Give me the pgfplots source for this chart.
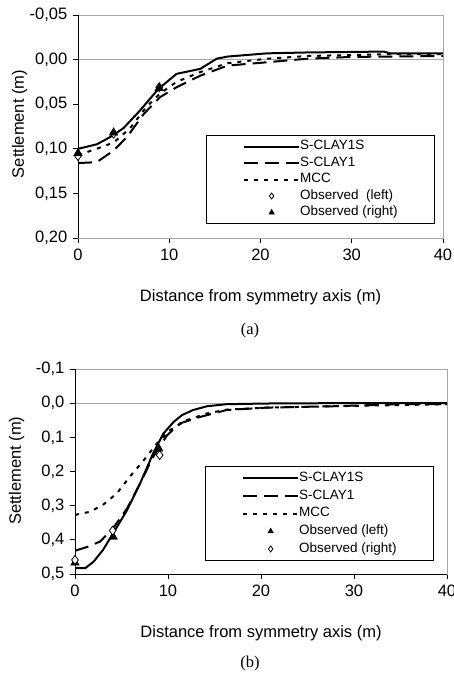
\documentclass[border=0pt]{standalone}
\usepackage{pgfplots}
\pgfplotsset{compat=1.18}
\usepackage{fontspec}
\setmainfont{Liberation Sans}
\newfontfamily\serifcap{Liberation Serif}

\pgfplotsset{
  settle/.style={
    scale only axis,
    xmin=0, xmax=40,
    xtick={0,10,20,30,40},
    y dir=reverse,
    axis line style={draw=gray!70, line width=0.8pt},
    tick style={black, line width=0.8pt},
    tick align=outside,
    major tick length=5pt,
    xtick pos=bottom, ytick pos=left,
    /pgf/number format/assume math mode=true,
    /pgf/number format/use comma,
    /pgf/number format/fixed,
    /pgf/number format/fixed zerofill,
    xticklabel style={/pgf/number format/precision=0, /pgf/number format/fixed zerofill=false},
    ylabel={Settlement (m)},
    xlabel={Distance from symmetry axis (m)},
    legend cell align=left,
    legend style={draw=black, line width=0.6pt, inner xsep=37pt, inner ysep=3pt,
      font=\fontsize{13.5}{15}\selectfont,
      nodes={inner sep=0pt, text height=11.5pt, text depth=5pt},
      /tikz/every even column/.append style={column sep=0pt}},
  },
  lineimg/.style={legend image code/.code={\draw[##1] (0pt,0pt) -- (55pt,0pt);}},
  markimg/.style={legend image code/.code={%
      \node[anchor=center, draw=none, fill=none, inner sep=0pt, minimum width=55pt,
        minimum height=2pt, text height=0pt, text depth=0pt] at (27.5pt,0pt) {};
      \draw[##1, mark size=3pt] plot coordinates {(27.5pt,0pt)};}},
  s1s/.style={black, line width=2pt, lineimg},
  s1/.style={black, line width=2pt, dash pattern=on 14pt off 7pt, lineimg},
  mcc/.style={black, line width=2pt, dash pattern=on 4pt off 6pt, lineimg},
  dia/.style={only marks, mark=diamond*, mark size=4.5pt, mark options={fill=white, draw=black, line width=0.8pt}, markimg},
  tri/.style={only marks, mark=triangle*, mark size=5pt, mark options={fill=black, draw=black}, markimg},
}

\begin{document}
\fontsize{16.5}{19}\selectfont
\begin{tikzpicture}
\useasboundingbox (0pt,0pt) rectangle (454pt,675pt);

% (a)
\begin{axis}[settle,
  at={(78pt,437pt)}, anchor=south west,
  width=365pt, height=223pt,
  ymin=-0.05, ymax=0.2,
  ytick={-0.05,0,0.05,0.1,0.15,0.2},
  yticklabel style={/pgf/number format/precision=2},
  ylabel style={at={(axis description cs:-0.16,0.511)}, anchor=center},
  xlabel style={at={(axis description cs:0.5,-0.265)}, anchor=center},
  legend style={at={(0.978,0.462)}, anchor=north east},
]
\addplot[gray!70, line width=0.8pt, forget plot] coordinates {(0,0) (40,0)};
\addplot[s1s] coordinates {
 (0,0.100) (2.05,0.095) (3.5,0.087) (4.97,0.077) (6.8,0.057) (8.8,0.033)
 (10.8,0.016) (13.4,0.0104) (15.2,-0.001) (16.4,-0.0034) (20.7,-0.007)
 (25.1,-0.008) (33.5,-0.009) (34.2,-0.007) (40,-0.007)};
\addplot[s1] coordinates {
 (0,0.116) (2.05,0.115) (3.9,0.102) (5.35,0.087) (7.2,0.061) (9,0.042)
 (10.8,0.031) (13.4,0.018) (16.4,0.0067) (20.7,0.003) (25.1,-0.001)
 (30,-0.003) (40,-0.004)};
\addplot[mcc] coordinates {
 (0,0.107) (2.05,0.100) (3.9,0.093) (5.7,0.077) (7.5,0.053) (9,0.038)
 (10.8,0.025) (13.4,0.014) (16.4,0.004) (20.7,-0.001) (25.1,-0.004)
 (33.5,-0.006) (40,-0.006)};
\addplot[dia] coordinates {(0,0.108) (3.9,0.083) (8.9,0.031)};
\addplot[tri] coordinates {(0,0.105) (3.9,0.082) (8.9,0.032)};
\draw[black, line width=0.8pt] (rel axis cs:0,1) -- (rel axis cs:0,0) -- (rel axis cs:1,0);
\legend{S-CLAY1S, S-CLAY1, MCC, Observed\ \ (left), Observed (right)}
\end{axis}
\node[font=\serifcap\fontsize{16.5}{19}\selectfont] at (250pt,344pt) {(a)};

% (b)
\begin{axis}[settle,
  at={(75pt,101pt)}, anchor=south west,
  width=372pt, height=205pt,
  ymin=-0.1, ymax=0.5,
  ytick={-0.1,0,0.1,0.2,0.3,0.4,0.5},
  yticklabel style={/pgf/number format/precision=1},
  ylabel style={at={(axis description cs:-0.157,0.504)}, anchor=center},
  xlabel style={at={(axis description cs:0.5,-0.288)}, anchor=center},
  legend style={at={(0.965,0.527)}, anchor=north east,
    nodes={text height=12.2pt, text depth=5.5pt}},
]
\addplot[gray!70, line width=0.8pt, forget plot] coordinates {(0,0) (40,0)};
\addplot[s1s] coordinates {
 (0,0.483) (1.1,0.483) (2,0.464) (3,0.430) (4.1,0.381) (5.6,0.313) (7,0.235)
 (8.4,0.147) (9.5,0.089) (10.6,0.055) (11.5,0.035) (12.7,0.020) (14.2,0.009)
 (16.3,0.003) (20.6,0.001) (27.8,0) (40,0)};
\addplot[s1] coordinates {
 (0,0.432) (1.4,0.420) (2.7,0.405) (4.1,0.366) (5.6,0.308) (7,0.235)
 (8.4,0.157) (9.9,0.094) (11.3,0.059) (13.5,0.040) (16.3,0.020) (20.6,0.013)
 (24.2,0.011) (27.8,0.009) (31.4,0.006) (35,0.003) (40,0.003)};
\addplot[mcc] coordinates {
 (0,0.327) (1.6,0.318) (3,0.298) (4.5,0.264) (5.9,0.215) (7.4,0.167)
 (8.8,0.118) (10.2,0.079) (12,0.050) (14.2,0.030) (16.3,0.019) (20.6,0.013)
 (27.8,0.009) (40,0.003)};
\addplot[tri] coordinates {(0,0.467) (4.1,0.391) (9,0.133)};
\addplot[dia] coordinates {(0,0.459) (4.05,0.373) (9.1,0.152)};
\draw[black, line width=0.8pt] (rel axis cs:0,1) -- (rel axis cs:0,0) -- (rel axis cs:1,0);
\legend{S-CLAY1S, S-CLAY1, MCC, Observed (left), Observed (right)}
\end{axis}
\node[font=\serifcap\fontsize{16.5}{19}\selectfont] at (250pt,11pt) {(b)};
\end{tikzpicture}
\end{document}
